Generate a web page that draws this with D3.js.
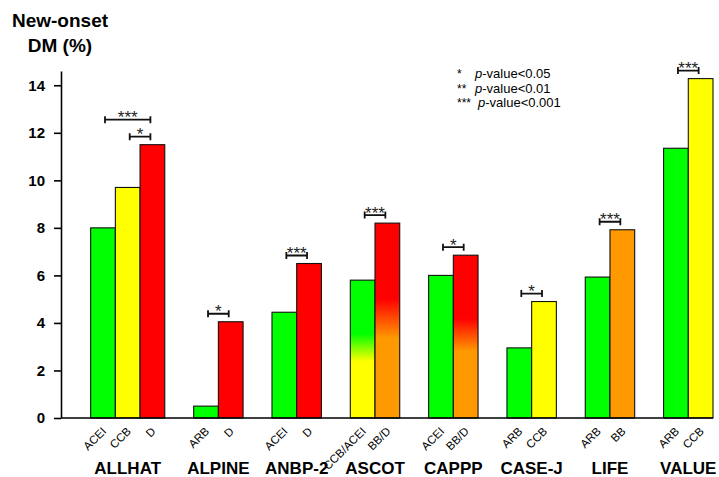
<!DOCTYPE html>
<html>
<head>
<meta charset="utf-8">
<script src="https://cdn.jsdelivr.net/npm/d3@7/dist/d3.min.js"></script>
<style>
  html, body { margin: 0; padding: 0; background: #fff; }
  svg { display: block; font-family: "Liberation Sans", Arial, sans-serif; }
</style>
</head>
<body>
<svg id="chart" width="719" height="477"></svg>
<script>
// ---------------- data ----------------
const trials = ["ALLHAT", "ALPINE", "ANBP-2", "ASCOT", "CAPPP", "CASE-J", "LIFE", "VALUE"];
const drugLabels = [
  ["ACEI", "CCB", "D"],
  ["ARB", "D"],
  ["ACEI", "D"],
  ["CCB/ACEI", "BB/D"],
  ["ACEI", "BB/D"],
  ["ARB", "CCB"],
  ["ARB", "BB"],
  ["ARB", "CCB"]
];
const values = [
  [8.0, 9.7, 11.5],
  [0.5, 4.05],
  [4.45, 6.5],
  [5.8, 8.2],
  [6.0, 6.85],
  [2.95, 4.9],
  [5.93, 7.92],
  [11.35, 14.28]
];
// fill colour keys; two keys = top colour fading to bottom colour
const fills = [
  [["green"], ["yellow"], ["red"]],
  [["green"], ["red"]],
  [["green"], ["red"]],
  [["green", "yellow"], ["red", "orange"]],
  [["green"], ["red", "orange"]],
  [["green"], ["yellow"]],
  [["green"], ["orange"]],
  [["green"], ["yellow"]]
];
// significance: [trial index, bar a, bar b, stars, stacking level]
const comparisons = [
  [0, 1, 2, "*", 0],
  [0, 0, 2, "***", 1],
  [1, 0, 1, "*", 0],
  [2, 0, 1, "***", 0],
  [3, 0, 1, "***", 0],
  [4, 0, 1, "*", 0],
  [5, 0, 1, "*", 0],
  [6, 0, 1, "***", 0],
  [7, 0, 1, "***", 0]
];
const yTicks = [0, 2, 4, 6, 8, 10, 12, 14];
const legendStars = ["*", "**", "***"];
const legendText = ["-value<0.05", "-value<0.01", "-value<0.001"];

const palette = { green: "#00ff00", yellow: "#ffff00", red: "#ff0000", orange: "#ff9900" };

// ---------------- layout ----------------
const svg = d3.select("#chart");
const plotLeft = 61, plotRight = 713, plotBottom = 418, plotTop = 71;
const padUnits = 1.2, gapUnits = 1.17;

// slot positions (bar = 1 unit)
let cum = padUnits;
const groupStart = trials.map((t, i) => {
  const s = cum;
  cum += values[i].length + gapUnits;
  return s;
});
const totalUnits = cum - gapUnits;

const x = d3.scaleLinear().domain([0, totalUnits]).range([plotLeft, plotRight]);
const y = d3.scaleLinear().domain([0, 14.6]).range([plotBottom, plotTop]);

// gradients
const defs = svg.append("defs");
const gradKeys = new Set();
fills.flat().forEach(f => { if (f.length === 2) gradKeys.add(f.join("-")); });
gradKeys.forEach(k => {
  const [a, b] = k.split("-");
  const g = defs.append("linearGradient").attr("id", "g-" + k)
    .attr("x1", 0).attr("y1", 0).attr("x2", 0).attr("y2", 1);
  g.append("stop").attr("offset", 0).attr("stop-color", palette[a]);
  g.append("stop").attr("offset", 0.39).attr("stop-color", palette[a]);
  g.append("stop").attr("offset", 0.59).attr("stop-color", palette[b]);
  g.append("stop").attr("offset", 1).attr("stop-color", palette[b]);
});

const bars = [];
trials.forEach((t, i) => {
  values[i].forEach((v, j) => {
    bars.push({ trial: i, idx: j, value: v, fill: fills[i][j], label: drugLabels[i][j],
      x0: x(groupStart[i] + j), x1: x(groupStart[i] + j + 1) });
  });
});

// bars
svg.append("g").selectAll("rect").data(bars).join("rect")
  .attr("x", d => d.x0)
  .attr("y", d => y(d.value))
  .attr("width", d => d.x1 - d.x0)
  .attr("height", d => y(0) - y(d.value))
  .attr("fill", d => d.fill.length === 2 ? "url(#g-" + d.fill.join("-") + ")" : palette[d.fill[0]])
  .attr("stroke", "#111")
  .attr("stroke-width", 1.1);

// y axis
const yAxis = svg.append("g").attr("transform", `translate(${plotLeft},0)`)
  .call(d3.axisLeft(y).tickValues(yTicks).tickSize(7).tickSizeOuter(0).tickPadding(9));
yAxis.select(".domain").attr("stroke", "#000").attr("stroke-width", 1.6);
yAxis.selectAll(".tick line").attr("stroke", "#000").attr("stroke-width", 1.6);
yAxis.selectAll(".tick text").attr("font-size", 15).attr("font-weight", "bold")
  .attr("fill", "#000").attr("font-family", "Liberation Sans, Arial, sans-serif");

// x axis line
svg.append("line").attr("x1", plotLeft).attr("x2", plotRight).attr("y1", y(0)).attr("y2", y(0))
  .attr("stroke", "#000").attr("stroke-width", 1.6);

// drug labels
svg.append("g").selectAll("text").data(bars).join("text")
  .attr("transform", d => `translate(${(d.x0 + d.x1) / 2 + 4},${y(0) + 14}) rotate(-45)`)
  .attr("text-anchor", "end")
  .attr("font-size", 11.5)
  .attr("fill", "#000")
  .text(d => d.label);

// trial labels
svg.append("g").selectAll("text").data(trials).join("text")
  .attr("x", (t, i) => x(groupStart[i] + values[i].length / 2))
  .attr("y", 474)
  .attr("text-anchor", "middle")
  .attr("font-size", 17)
  .attr("font-weight", "bold")
  .attr("fill", "#000")
  .text(t => t);

// significance brackets
const sig = svg.append("g");
comparisons.forEach(([ti, a, b, stars, level]) => {
  const ca = x(groupStart[ti] + a + 0.5) + 2;
  const cb = x(groupStart[ti] + b + 0.5) - 2;
  const maxV = d3.max(values[ti].slice(a, b + 1));
  const by = y(maxV) - 8 - level * 17;
  sig.append("path")
    .attr("d", `M${ca},${by - 3.5}V${by + 3.5}M${ca},${by}H${cb}M${cb},${by - 3.5}V${by + 3.5}`)
    .attr("stroke", "#111").attr("stroke-width", 1.8).attr("fill", "none");
  sig.append("text")
    .attr("x", (ca + cb) / 2).attr("y", by + 3.5)
    .attr("text-anchor", "middle")
    .attr("font-size", 17)
    .attr("fill", "#222")
    .text(stars);
});

// legend
const lg = svg.append("g");
legendStars.forEach((s, i) => {
  const ly = 78 + i * 14.5;
  lg.append("text").attr("x", 457).attr("y", ly)
    .attr("font-size", 12).attr("fill", "#000").text(s);
  const t = lg.append("text").attr("x", i === 2 ? 478 : 475).attr("y", ly)
    .attr("font-size", 13).attr("fill", "#000");
  t.append("tspan").attr("font-style", "italic").text("p");
  t.append("tspan").text(legendText[i]);
});

// y title
const title = svg.append("text").attr("text-anchor", "middle").attr("font-size", 19)
  .attr("font-weight", "bold").attr("fill", "#000");
title.append("tspan").attr("x", 60).attr("y", 27).text("New-onset");
title.append("tspan").attr("x", 60).attr("y", 52).text("DM (%)");
</script>
</body>
</html>
